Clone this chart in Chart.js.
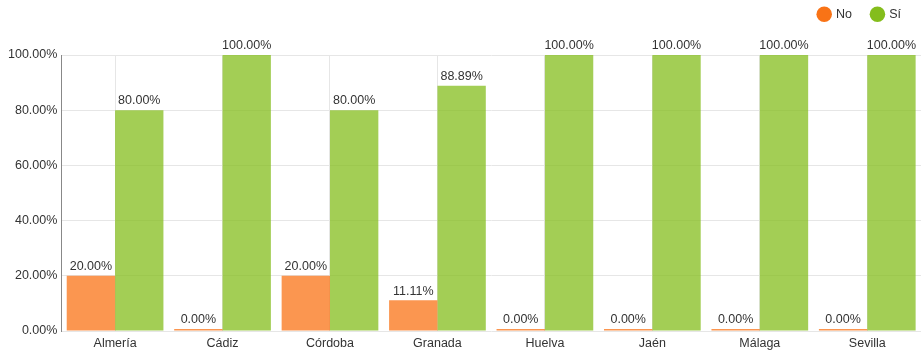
<!DOCTYPE html>
<html>
<head>
<meta charset="utf-8">
<script src="https://cdn.jsdelivr.net/npm/chart.js@4"></script>
<style>
  html, body { margin: 0; padding: 0; background: #fff; }
  #wrap { width: 923px; height: 352px; }
</style>
</head>
<body>
<div id="wrap"><canvas id="chart"></canvas></div>
<script>
// DATA
const provincias = ["Almería", "Cádiz", "Córdoba", "Granada", "Huelva", "Jaén", "Málaga", "Sevilla"];
const valoresNo = [20, 0, 20, 11.11, 0, 0, 0, 0];
const valoresSi = [80, 100, 80, 88.89, 100, 100, 100, 100];
const yTicks = [0, 20, 40, 60, 80, 100];
const coloresLegend = ["rgb(249, 115, 22)", "rgb(132, 189, 28)"];
const coloresBarra = ["rgba(249, 115, 22, 0.75)", "rgba(132, 189, 28, 0.75)"];

Chart.defaults.font.family = "'Liberation Sans', Arial, sans-serif";
Chart.defaults.font.size = 12.5;
Chart.defaults.color = "#333";

// labels above bars
const barLabels = {
    id: "barLabels",
    afterDatasetsDraw(chart) {
        const ctx = chart.ctx;
        ctx.save();
        ctx.font = "12.5px 'Liberation Sans', Arial, sans-serif";
        ctx.fillStyle = "#333";
        ctx.textAlign = "center";
        ctx.textBaseline = "bottom";
        chart.data.datasets.forEach((ds, i) => {
            chart.getDatasetMeta(i).data.forEach((bar, j) => {
                ctx.fillText(ds.data[j].toFixed(2) + "%", bar.x, bar.y - 3);
            });
        });
        ctx.restore();
    }
};

// fixed legend block height so the plot starts lower
const legendGap = {
    id: "legendGap",
    beforeInit(chart) {
        const fit = chart.legend.fit;
        chart.legend.fit = function () {
            fit.bind(chart.legend)();
            this.height = 67;
        };
    }
};

new Chart(document.getElementById("chart"), {
    type: "bar",
    data: {
        labels: provincias,
        datasets: [{
            label: "No",
            data: valoresNo,
            backgroundColor: coloresBarra[0],
            borderWidth: 0,
            minBarLength: 2,
            barPercentage: 1,
            categoryPercentage: 0.9
        }, {
            label: "Sí",
            data: valoresSi,
            backgroundColor: coloresBarra[1],
            borderWidth: 0,
            minBarLength: 2,
            barPercentage: 1,
            categoryPercentage: 0.9
        }]
    },
    options: {
        responsive: true,
        maintainAspectRatio: false,
        animation: false,
        layout: { padding: { top: -12, right: 2, bottom: -4, left: 4 } },
        plugins: {
            legend: {
                align: "end",
                labels: {
                    usePointStyle: true,
                    pointStyle: "circle",
                    boxWidth: 11,
                    boxHeight: 11,
                    padding: 20,
                    color: "#333",
                    font: { size: 12.5 },
                    generateLabels: chart => chart.data.datasets.map((ds, i) => ({
                        text: ds.label,
                        fillStyle: coloresLegend[i],
                        strokeStyle: coloresLegend[i],
                        lineWidth: 0,
                        pointStyle: "circle",
                        datasetIndex: i,
                        fontColor: "#333"
                    }))
                }
            },
            tooltip: { enabled: false }
        },
        scales: {
            x: {
                grid: { offset: false, color: "#e6e6e6", drawTicks: false },
                border: { display: false },
                ticks: { padding: 5, color: "#333" }
            },
            y: {
                min: 0,
                max: 100,
                afterBuildTicks: axis => { axis.ticks = yTicks.map(v => ({ value: v })); },
                grid: { color: "#e6e6e6", drawTicks: false },
                border: { color: "#888", width: 1 },
                ticks: {
                    padding: 4,
                    color: "#333",
                    callback: v => v.toFixed(2) + "%"
                }
            }
        }
    },
    plugins: [barLabels, legendGap]
});
</script>
</body>
</html>
